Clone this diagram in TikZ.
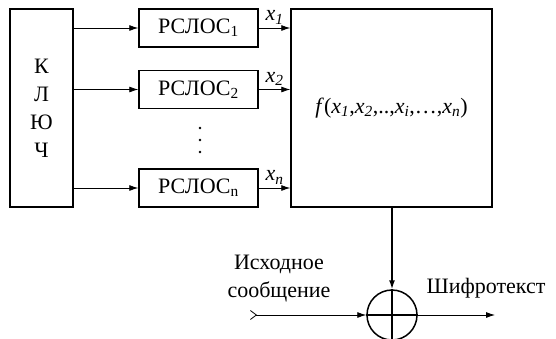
\documentclass[tikz,border=0pt]{standalone}
\usepackage{fontspec}
\setmainfont{Liberation Serif}
\usetikzlibrary{arrows.meta}

\newcommand{\xsub}[1]{\textit{x}\textsubscript{\textit{#1}}}

\begin{document}
\begin{tikzpicture}[
  x=1pt, y=-1pt,
  >={Latex[length=9pt,width=6pt]},
  every node/.style={font=\fontsize{22}{28}\selectfont},
  block/.style={rectangle, draw, line width=1.5pt, inner sep=0pt},
  lfsr/.style={block, minimum width=119pt, minimum height=38pt},
  sig/.style={->, line width=0.8pt}
]
\useasboundingbox (0,0) rectangle (556,338);

\def\rowA{28}
\def\rowB{89.5}
\def\rowN{188}

\node[block, minimum width=63pt, minimum height=198pt, align=center]
     at (41.5,108) (key) {К\\Л\\Ю\\Ч};

\node[lfsr] at (198.5,\rowA) (lfsrA) {РСЛОС\textsubscript{1}};
\node[lfsr] at (198.5,\rowB) (lfsrB) {РСЛОС\textsubscript{2}};
\node[lfsr] at (198.5,\rowN) (lfsrN) {РСЛОС\textsubscript{n}};
% vertical dots between the registers
\foreach \dy in {128,140,152}
  \fill (200,\dy) circle (1.4pt);

\node[block, minimum width=201pt, minimum height=198pt]
     at (391.5,108) (func)
     {\textit{f}(\xsub{1},\xsub{2},..,\xsub{i},\dots,\xsub{n})};

\node[circle, draw, line width=1.5pt, minimum size=50pt, inner sep=0pt]
     at (392,315) (xor) {};
\draw[line width=1.5pt] (xor.north) -- (xor.south);
\draw[line width=1.5pt] (xor.west) -- (xor.east);

\draw[sig] (key.east |- lfsrA) -- (lfsrA.west);
\draw[sig] (key.east |- lfsrB) -- (lfsrB.west);
\draw[sig] (key.east |- lfsrN) -- (lfsrN.west);

\draw[sig] (lfsrA.east) -- (lfsrA.east -| func.west)
           node[pos=0.5, above, inner sep=3.5pt]{\xsub{1}};
\draw[sig] (lfsrB.east) -- (lfsrB.east -| func.west)
           node[pos=0.5, above, inner sep=3.5pt]{\xsub{2}};
\draw[sig] (lfsrN.east) -- (lfsrN.east -| func.west)
           node[pos=0.5, above, inner sep=3.5pt]{\xsub{n}};

\draw[->, line width=1.5pt] (func.south -| xor) -- (xor.north);

\coordinate (msgin) at (250,315);
\coordinate (msgout) at (495,315);
\draw[{Straight Barb[reversed,length=6pt,width=9pt]}-{Latex[length=9pt,width=6pt]}, line width=0.8pt]
     (msgin) -- (xor.west);
\draw[sig] (xor.east) -- (msgout);

\node[align=center] at (279,279) (srcmsg) {Исходное\\сообщение};
\node at (486,288) (cipher) {Шифротекст};

\end{tikzpicture}
\end{document}
